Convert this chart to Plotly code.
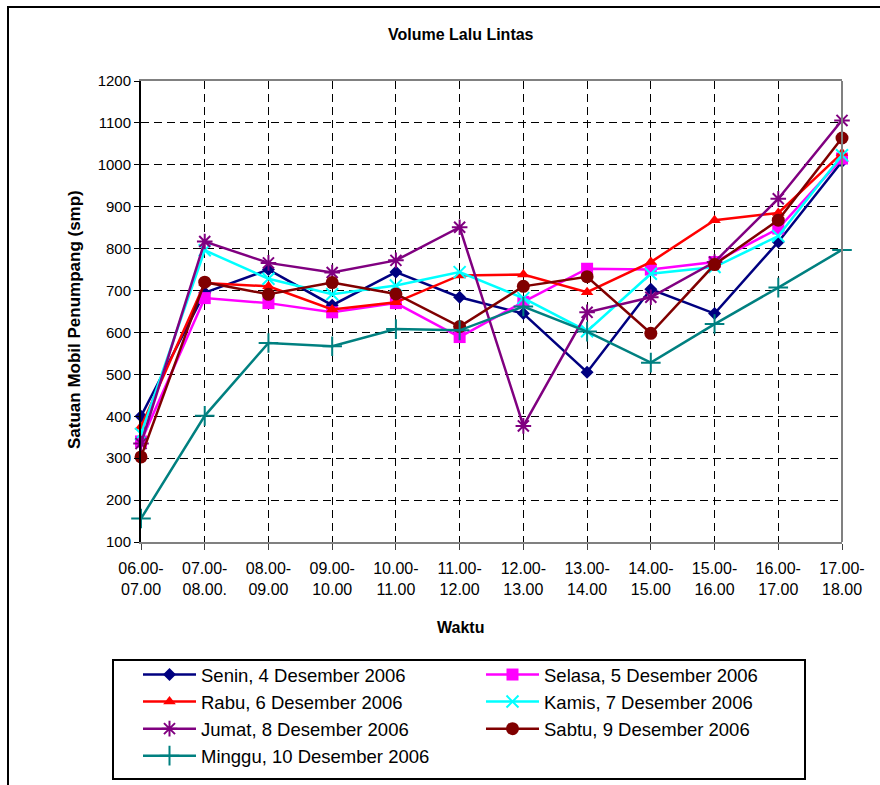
import plotly.graph_objects as go

# Time slots (hourly intervals)
waktu = ["06.00-<br>07.00", "07.00-<br>08.00.", "08.00-<br>09.00", "09.00-<br>10.00",
         "10.00-<br>11.00", "11.00-<br>12.00", "12.00-<br>13.00", "13.00-<br>14.00",
         "14.00-<br>15.00", "15.00-<br>16.00", "16.00-<br>17.00", "17.00-<br>18.00"]

# Traffic volume per day (smp)
senin = [400, 695, 750, 665, 744, 684, 645, 505, 703, 645, 816, 1008]
selasa = [340, 682, 670, 648, 670, 589, 673, 752, 750, 768, 848, 1015]
rabu = [375, 718, 710, 655, 672, 736, 738, 696, 768, 868, 885, 1028]
kamis = [358, 796, 728, 691, 712, 744, 682, 603, 740, 756, 830, 1023]
jumat = [335, 817, 766, 743, 772, 851, 377, 648, 684, 768, 919, 1106]
sabtu = [303, 720, 691, 719, 692, 614, 710, 733, 598, 762, 868, 1064]
minggu = [156, 401, 575, 567, 608, 605, 662, 602, 528, 620, 707, 797]

y_ticks = list(range(100, 1300, 100))

FONT = "Liberation Sans, Arial, sans-serif"

series = [
    ("Senin, 4 Desember 2006", senin, "#000080", "diamond", 10),
    ("Selasa, 5 Desember 2006", selasa, "#FF00FF", "square", 12),
    ("Rabu, 6 Desember 2006", rabu, "#FF0000", "triangle-up", 11),
    ("Kamis, 7 Desember 2006", kamis, "#00FFFF", "x-thin", 12),
    ("Jumat, 8 Desember 2006", jumat, "#800080", "asterisk", 13),
    ("Sabtu, 9 Desember 2006", sabtu, "#800000", "circle", 13),
    ("Minggu, 10 Desember 2006", minggu, "#008080", "cross-thin", 14),
]

fig = go.Figure()
for name, vals, color, sym, size in series:
    thin = sym in ("x-thin", "asterisk", "cross-thin")
    fig.add_trace(go.Scatter(
        x=waktu, y=vals, name=name, mode="lines+markers", cliponaxis=False,
        line=dict(color=color, width=2.5),
        marker=dict(symbol=sym, size=size, color=color,
                    line=dict(color=color, width=2 if thin else 0)),
    ))

W, H = 880, 785
L, R, T, B = 141, 842, 81, 542
pw, ph = R - L, B - T


def px(xp):
    return (xp - L) / pw


def py(yp):
    return (B - yp) / ph


fig.update_layout(
    width=W, height=H,
    margin=dict(l=L, r=W - R, t=T, b=H - B, autoexpand=False),
    paper_bgcolor="white", plot_bgcolor="white",
    font=dict(family=FONT, color="black"),
    showlegend=True,
    legend=dict(
        orientation="h", x=px(138), y=py(656), xanchor="left", yanchor="top",
        borderwidth=0, bgcolor="rgba(0,0,0,0)",
        font=dict(size=18.5, family=FONT), itemwidth=53,
        entrywidth=275, entrywidthmode="pixels", traceorder="normal",
    ),
    xaxis=dict(
        type="category", range=[0, 11], tickfont=dict(size=16),
        showgrid=True, gridcolor="black", gridwidth=1, griddash="8px,5px",
        showline=True, linecolor="#808080", linewidth=2, mirror=True,
        ticks="outside", ticklen=6, tickcolor="#404040", ticklabelstandoff=5,
    ),
    yaxis=dict(
        range=[100, 1200], tickvals=y_ticks, tickfont=dict(size=15),
        showgrid=True, gridcolor="black", gridwidth=1, griddash="8px,5px",
        showline=True, linecolor="black", linewidth=2,
        ticks="outside", ticklen=5, tickcolor="black", zeroline=False,
    ),
    annotations=[
        dict(text="<b>Volume Lalu Lintas</b>", x=px(461), y=py(34), xref="paper", yref="paper",
             showarrow=False, font=dict(size=16, family=FONT), xanchor="center", yanchor="middle"),
        dict(text="<b>Waktu</b>", x=px(460), y=py(627), xref="paper", yref="paper",
             showarrow=False, font=dict(size=16, family=FONT), xanchor="center", yanchor="middle"),
        dict(text="<b>Satuan Mobil Penumpang (smp)</b>", x=px(74), y=py(320), xref="paper",
             yref="paper", showarrow=False, textangle=-90, font=dict(size=17, family=FONT),
             xanchor="center", yanchor="middle"),
    ],
    shapes=[
        # right edge of the plot area
        dict(type="line", xref="paper", yref="paper", x0=1, x1=1, y0=0, y1=1,
             line=dict(color="#808080", width=2)),
        # legend frame
        dict(type="rect", xref="paper", yref="paper", x0=px(113), x1=px(805),
             y0=py(779), y1=py(660), line=dict(color="black", width=2), layer="below"),
        # outer chart frame
        dict(type="rect", xref="paper", yref="paper", x0=px(8), x1=px(960),
             y0=py(900), y1=py(7), line=dict(color="black", width=2)),
    ],
)

fig.write_html("out.html")
